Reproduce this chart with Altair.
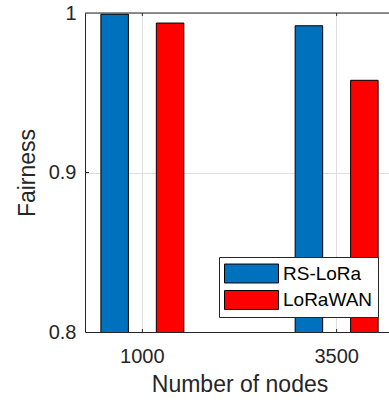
import altair as alt
import pandas as pd

# ---- data ----
categories = ["1000", "3500"]
series = ["RS-LoRa", "LoRaWAN"]
rs_lora = [0.9992, 0.9920]
lorawan = [0.9937, 0.9578]
colors = ["#0072BD", "#FF0000"]
y_ticks = [0.8, 0.9, 1.0]

rows = []
for i, c in enumerate(categories):
    rows.append({"nodes": c, "scheme": series[0], "fairness": rs_lora[i]})
    rows.append({"nodes": c, "scheme": series[1], "fairness": lorawan[i]})
df = pd.DataFrame(rows)
cat_df = pd.DataFrame({"nodes": categories})
ytick_df = pd.DataFrame({"v": [0.9]})
one_df = pd.DataFrame({"a": [0]})

FONT = "Liberation Sans"
TXT = "#262626"
GRID = "#dfdfdf"
W, H = 304, 319

x_scale = alt.Scale(domain=categories, range=[0, 309], paddingInner=0.429, paddingOuter=0.0098)
y_scale = alt.Scale(domain=[0.8, 1.0], nice=False, zero=False)

x_axis = alt.Axis(
    title="Number of nodes", labelAngle=0, ticks=False, grid=True, gridColor=GRID,
    bandPosition=0.5, domainColor=TXT, labelColor=TXT, titleColor=TXT,
    labelFont=FONT, titleFont=FONT, labelFontSize=20, titleFontSize=23,
    titleFontWeight="normal", labelPadding=14, titlePadding=7,
)
y_axis = alt.Axis(
    title="Fairness", values=y_ticks, format=".1~f", ticks=False, grid=True, gridColor=GRID,
    domainColor=TXT, labelColor=TXT, titleColor=TXT,
    labelFont=FONT, titleFont=FONT, labelFontSize=20, titleFontSize=23,
    titleFontWeight="normal", labelPadding=9, titlePadding=9,
)

# legend swatch: 54 x 19 px rectangle drawn with a base symbol size of 22 px
swatch = "M-1,-0.86L3.91,-0.86L3.91,0.86L-1,0.86Z"

bars = alt.Chart(df).mark_bar(stroke="black", strokeWidth=1, clip=True).encode(
    x=alt.X("nodes:N", sort=categories, scale=x_scale, axis=x_axis),
    xOffset=alt.XOffset("scheme:N", sort=series,
                        scale=alt.Scale(domain=series, paddingInner=0.504, paddingOuter=0.252)),
    y=alt.Y("fairness:Q", scale=y_scale, axis=y_axis),
    color=alt.Color(
        "scheme:N", sort=series,
        scale=alt.Scale(domain=series, range=colors),
        legend=alt.Legend(
            title=None, orient="none", legendX=134, legendY=244,
            fillColor="white", strokeColor=TXT, padding=5, cornerRadius=0,
            symbolType=swatch, symbolSize=484,
            symbolStrokeColor="black", symbolStrokeWidth=1, symbolOpacity=1,
            labelFont=FONT, labelFontSize=19, labelColor="black", labelOffset=36,
            rowPadding=3.5,
        ),
    ),
)

top_line = alt.Chart(one_df).mark_rule(color=TXT, strokeWidth=1).encode(
    x=alt.value(0), x2=alt.value(W), y=alt.value(0)
)
bottom_ticks = alt.Chart(cat_df).mark_rule(color=TXT, strokeWidth=1).encode(
    x=alt.X("nodes:N", sort=categories, bandPosition=0.5),
    y=alt.value(H - 3), y2=alt.value(H),
)
top_ticks = alt.Chart(cat_df).mark_rule(color=TXT, strokeWidth=1).encode(
    x=alt.X("nodes:N", sort=categories, bandPosition=0.5),
    y=alt.value(0), y2=alt.value(3),
)
left_ticks = alt.Chart(ytick_df).mark_rule(color=TXT, strokeWidth=1).encode(
    y=alt.Y("v:Q"), x=alt.value(0), x2=alt.value(4),
)

chart = alt.layer(bars, top_line, bottom_ticks, top_ticks, left_ticks).properties(
    width=W, height=H,
    autosize=alt.AutoSizeParams(type="none"),
    padding={"left": 85, "top": 13, "right": 0, "bottom": 71},
).configure_view(stroke=None).configure(background="white")

chart.save("out.html", embed_options={"renderer": "svg", "actions": False})
